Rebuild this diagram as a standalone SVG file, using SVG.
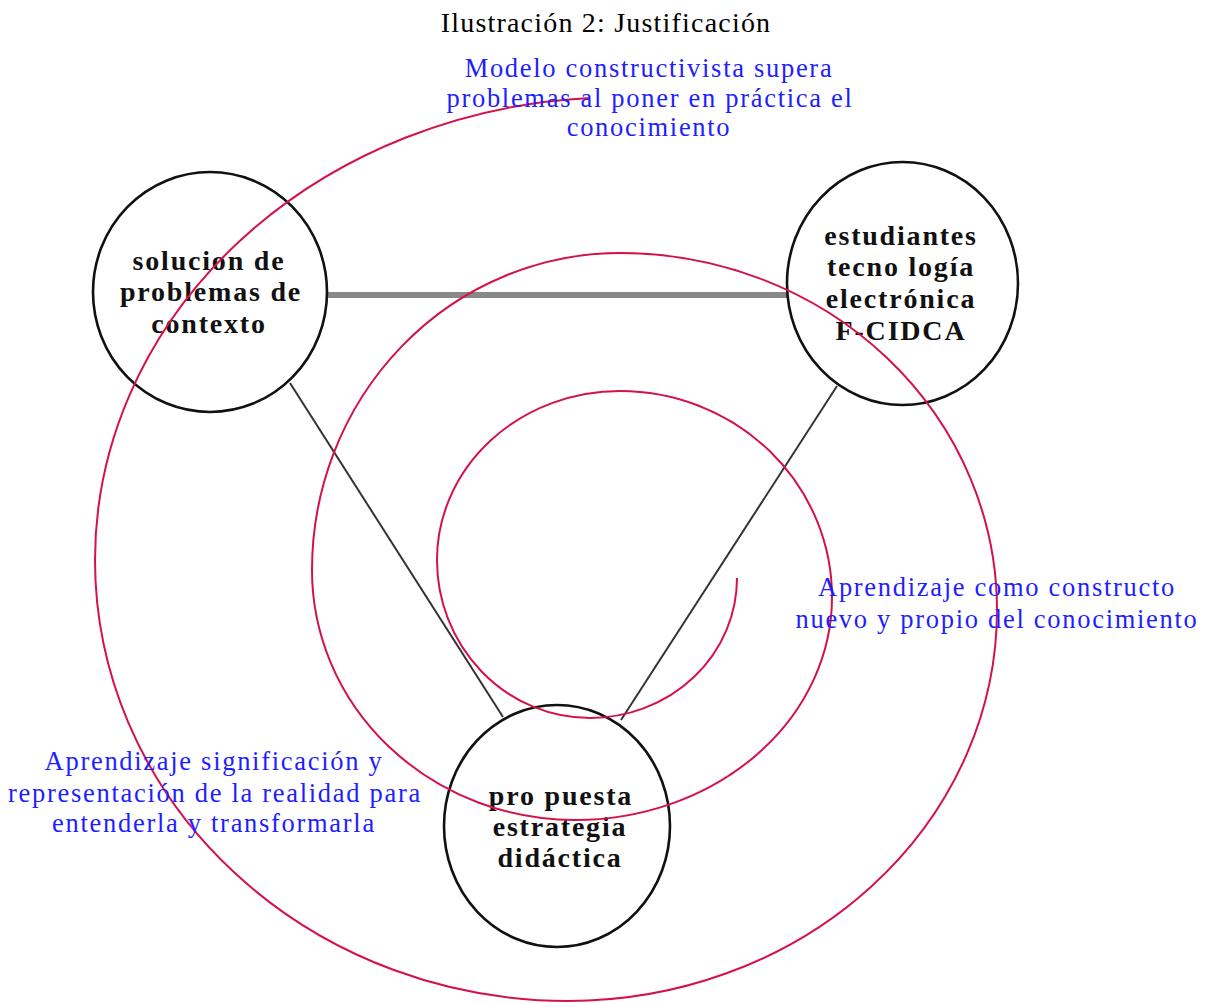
<svg xmlns="http://www.w3.org/2000/svg" width="1207" height="1003" viewBox="0 0 1207 1003">
  <style>
    .title { font-family: "Liberation Serif", "Times New Roman", serif; font-size: 28px; fill: #000; letter-spacing: 1.2px; }
    .node-shape { fill: #ffffff; stroke: #111111; stroke-width: 2.6; }
    .node-label { font-family: "Liberation Serif", "Times New Roman", serif; font-size: 28px; font-weight: bold; fill: #111111; letter-spacing: 1.8px; text-anchor: middle; }
    .note { font-family: "Liberation Serif", "Times New Roman", serif; font-size: 26.5px; fill: #1e1eff; letter-spacing: 1.7px; text-anchor: middle; }
    .link { stroke: #333333; stroke-width: 2; fill: none; }
    .link-main { stroke: #888888; stroke-width: 6; fill: none; }
    .spiral { stroke: #d4124a; stroke-width: 2; fill: none; }
  </style>

  <rect width="1207" height="1003" fill="#ffffff"/>

  <text class="title" x="606" y="32" text-anchor="middle">Ilustración 2: Justificación</text>

  <!-- connectors between the three nodes -->
  <g id="connectors">
    <line class="link-main" x1="327" y1="295" x2="787" y2="295"/>
    <line class="link" x1="290" y1="383" x2="503" y2="717"/>
    <line class="link" x1="837" y1="386" x2="621" y2="720"/>
  </g>

  <g id="node-solucion">
    <ellipse class="node-shape" cx="210" cy="292" rx="117" ry="120"/>
    <text class="node-label" x="209" y="270">solucion de</text>
    <text class="node-label" x="211" y="301">problemas de</text>
    <text class="node-label" x="209" y="333">contexto</text>
  </g>

  <g id="node-estudiantes">
    <ellipse class="node-shape" cx="902.5" cy="283.5" rx="115.5" ry="121.5"/>
    <text class="node-label" x="901" y="245">estudiantes</text>
    <text class="node-label" x="901" y="276">tecno logía</text>
    <text class="node-label" x="901" y="308">electrónica</text>
    <text class="node-label" x="901" y="340">F-CIDCA</text>
  </g>

  <g id="node-propuesta">
    <ellipse class="node-shape" cx="557" cy="826" rx="113" ry="121"/>
    <text class="node-label" x="561" y="805">pro puesta</text>
    <text class="node-label" x="560" y="836">estrategia</text>
    <text class="node-label" x="560" y="867">didáctica</text>
  </g>

  <!-- spiral built from quarter-ellipse arcs, inner end to outer end -->
  <g id="spiral">
    <path class="spiral" d="M 737 578
      A 147 140 0 0 1 590 718
      A 153 158 0 0 1 437 560
      A 183 169 0 0 1 620 391
      A 212 206 0 0 1 832 597
      A 257 223 0 0 1 575 820
      A 263 250 0 0 1 312 570
      A 308 317 0 0 1 620 253
      A 377 357 0 0 1 997 610
      A 429 391 0 0 1 568 1001
      A 473 441 0 0 1 95 560
      A 525 463 0 0 1 590 98"/>
  </g>

  <g id="note-modelo">
    <text class="note" x="649" y="77">Modelo constructivista supera</text>
    <text class="note" x="650" y="107">problemas al poner en práctica el</text>
    <text class="note" x="649" y="136">conocimiento</text>
  </g>

  <g id="note-constructo">
    <text class="note" x="997" y="596">Aprendizaje como constructo</text>
    <text class="note" x="997" y="628">nuevo y propio del conocimiento</text>
  </g>

  <g id="note-significacion">
    <text class="note" x="214" y="770">Aprendizaje significación y</text>
    <text class="note" x="215" y="802">representación de la realidad para</text>
    <text class="note" x="214" y="832">entenderla y transformarla</text>
  </g>
</svg>
